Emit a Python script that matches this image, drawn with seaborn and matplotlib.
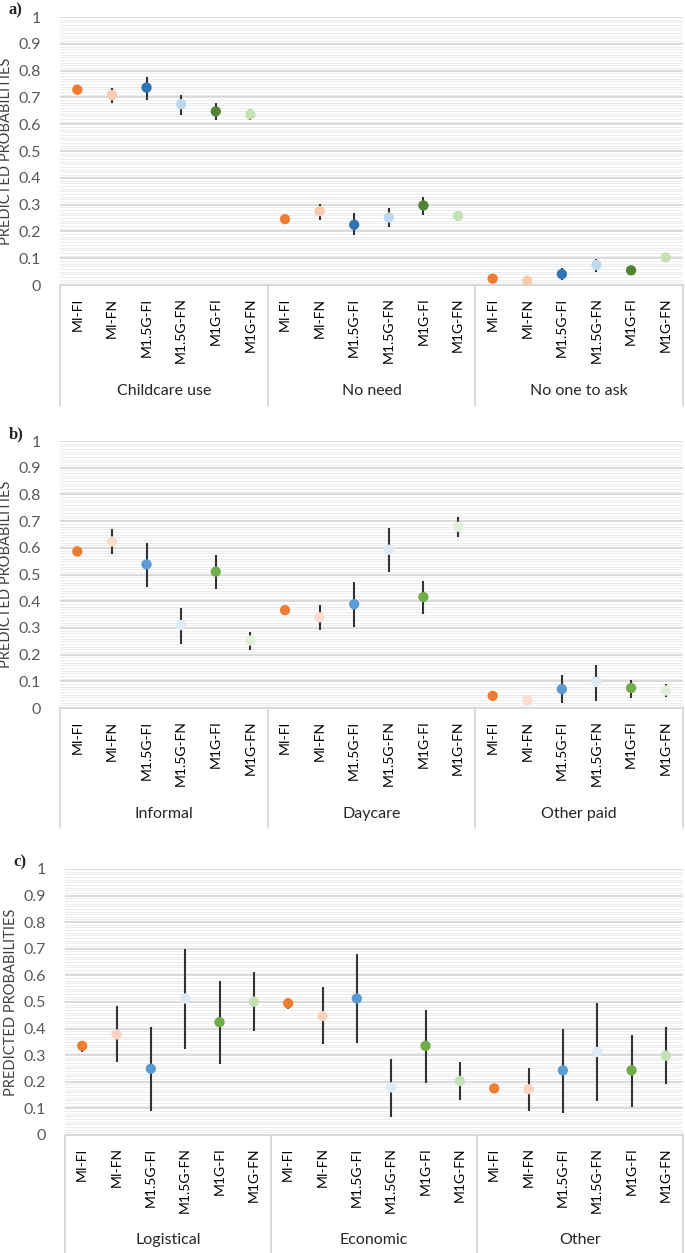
import pandas as pd
import seaborn as sns
import matplotlib.pyplot as plt
from matplotlib.ticker import MultipleLocator

models = ['MI-FI', 'MI-FN', 'M1.5G-FI', 'M1.5G-FN', 'M1G-FI', 'M1G-FN']

# panel a
groups_a = ['Childcare use', 'No need', 'No one to ask']
est_a = [0.729, 0.709, 0.737, 0.675, 0.648, 0.637,
         0.246, 0.276, 0.225, 0.252, 0.297, 0.258,
         0.024, 0.016, 0.041, 0.075, 0.055, 0.103]
lo_a = [0.725, 0.680, 0.692, 0.635, 0.615, 0.617,
        0.243, 0.242, 0.185, 0.215, 0.263, 0.239,
        0.022, 0.014, 0.019, 0.047, 0.052, 0.100]
hi_a = [0.733, 0.737, 0.776, 0.708, 0.680, 0.658,
        0.249, 0.304, 0.267, 0.286, 0.327, 0.277,
        0.026, 0.018, 0.062, 0.099, 0.058, 0.106]
colors_a = ['#ED7D31', '#F8CBAD', '#2E75B6', '#BDD7EE', '#548235', '#C5E0B4']

# panel b
groups_b = ['Informal', 'Daycare', 'Other paid']
est_b = [0.587, 0.624, 0.538, 0.311, 0.511, 0.253,
         0.367, 0.340, 0.389, 0.593, 0.416, 0.679,
         0.046, 0.029, 0.071, 0.098, 0.075, 0.066]
lo_b = [0.584, 0.577, 0.455, 0.239, 0.445, 0.218,
        0.364, 0.293, 0.303, 0.511, 0.351, 0.639,
        0.044, 0.020, 0.019, 0.026, 0.036, 0.041]
hi_b = [0.590, 0.672, 0.620, 0.374, 0.573, 0.286,
        0.370, 0.386, 0.471, 0.676, 0.477, 0.716,
        0.048, 0.038, 0.122, 0.163, 0.106, 0.091]
colors_b = ['#ED7D31', '#FBDCCF', '#5B9BD5', '#DEEBF7', '#70AD47', '#E2F0D9']

# panel c
groups_c = ['Logistical', 'Economic', 'Other']
est_c = [0.335, 0.378, 0.249, 0.513, 0.424, 0.501,
         0.495, 0.447, 0.513, 0.179, 0.335, 0.203,
         0.175, 0.172, 0.243, 0.312, 0.243, 0.298]
lo_c = [0.313, 0.276, 0.091, 0.325, 0.268, 0.391,
        0.472, 0.342, 0.347, 0.069, 0.197, 0.132,
        0.172, 0.090, 0.084, 0.128, 0.107, 0.190]
hi_c = [0.342, 0.486, 0.404, 0.698, 0.580, 0.612,
        0.516, 0.558, 0.679, 0.284, 0.471, 0.274,
        0.178, 0.253, 0.400, 0.496, 0.376, 0.404]
colors_c = ['#ED7D31', '#F9D3C2', '#5B9BD5', '#DEEBF7', '#70AD47', '#C5E0B4']

sns.set_style('white')
plt.rcParams['font.family'] = ['Lato', 'DejaVu Sans']

fig = plt.figure(figsize=(6.85, 12.53), dpi=100)

panels = [
    ('a)', groups_a, est_a, lo_a, hi_a, colors_a, [0.0876, 0.7725, 0.9095, 0.2139]),
    ('b)', groups_b, est_b, lo_b, hi_b, colors_b, [0.0876, 0.4349, 0.9095, 0.2131]),
    ('c)', groups_c, est_c, lo_c, hi_c, colors_c, [0.0949, 0.0942, 0.9022, 0.2123]),
]

for letter, groups, est, lo, hi, colors, rect in panels:
    ax = fig.add_axes(rect)
    rows = []
    for gi, g in enumerate(groups):
        for mi, m in enumerate(models):
            k = gi * 6 + mi
            rows.append({'group': g, 'model': m, 'pos': k,
                         'value': est[k], 'lo': lo[k], 'hi': hi[k]})
    df = pd.DataFrame(rows)

    # minor grid every 0.01, major every 0.1
    ax.set_ylim(0, 1)
    ax.set_xlim(-0.5, 17.5)
    ax.yaxis.set_major_locator(MultipleLocator(0.1))
    ax.yaxis.set_minor_locator(MultipleLocator(0.01))
    ax.grid(which='minor', axis='y', color='#EDEDED', linewidth=0.8)
    ax.grid(which='major', axis='y', color='#D4D4D4', linewidth=1.2)
    ax.set_axisbelow(True)

    ax.vlines(df['pos'], df['lo'], df['hi'], color='#333333', linewidth=1.5, zorder=2)
    sns.scatterplot(data=df, x='pos', y='value', hue='model', palette=colors,
                    hue_order=models, s=55, edgecolor='none', legend=False,
                    zorder=3, ax=ax, clip_on=False)

    ax.set_yticks([i / 10 for i in range(11)])
    ax.set_yticklabels(['0'] + ['0.%d' % i for i in range(1, 10)] + ['1'],
                       fontsize=11.5, color='#595959')
    ax.set_xticks(range(18))
    ax.set_xticklabels(models * 3, rotation=90, fontsize=10, color='#000000')
    ax.tick_params(axis='both', length=0)
    ax.tick_params(axis='x', pad=9)
    ax.tick_params(axis='y', pad=14)
    ax.set_xlabel('')
    ax.set_ylabel('PREDICTED PROBABILITIES', fontsize=10.5, color='#404040', labelpad=4)
    for sp in ax.spines.values():
        sp.set_visible(False)

    # category box beneath the axis
    trans = ax.get_xaxis_transform()
    ax.plot([-0.5, 17.5], [0, 0], color='#D4D4D4', lw=1.2, transform=trans, clip_on=False)
    for xb in [-0.5, 5.5, 11.5, 17.5]:
        ax.plot([xb, xb], [0, -0.45], color='#D4D4D4', lw=1.2, transform=trans, clip_on=False)
    for gi, g in enumerate(groups):
        ax.text(gi * 6 + 2.5, -0.395, g, transform=trans, ha='center', va='center',
                fontsize=11.5, color='#262626')

    ax.text(-0.083, 1.025, letter, transform=ax.transAxes, ha='left', va='center',
            fontsize=12, fontweight='bold', family='Liberation Serif')

fig.savefig('out.png', dpi=100)
